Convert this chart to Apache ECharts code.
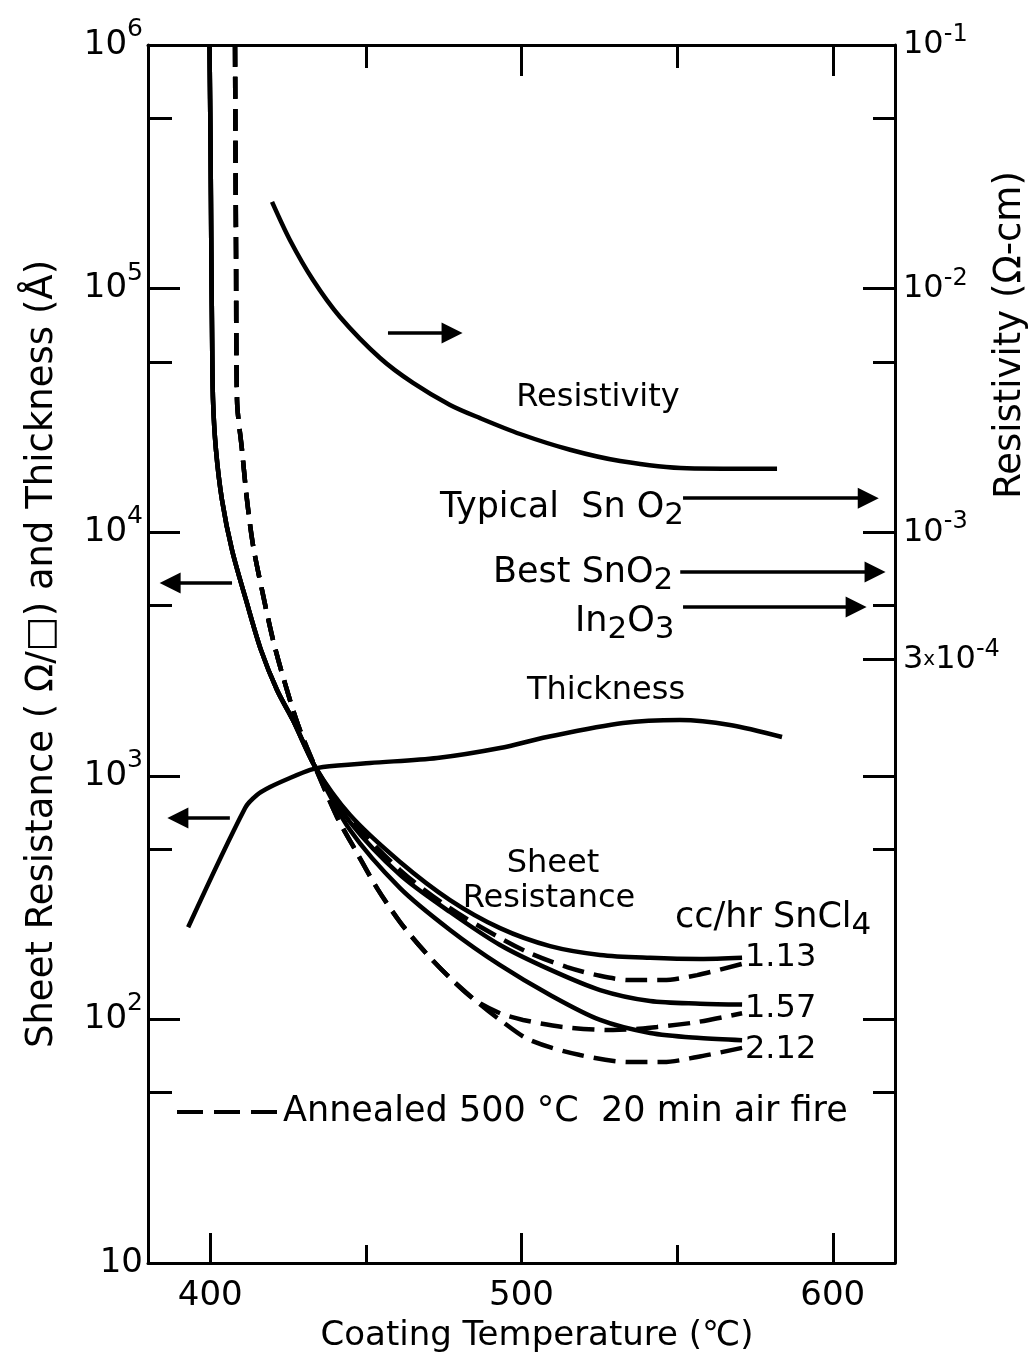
<!DOCTYPE html>
<html>
<head>
<meta charset="utf-8">
<script src="https://cdn.jsdelivr.net/npm/echarts@6/dist/echarts.min.js"></script>
<style>
  html, body { margin: 0; padding: 0; background: #fff; }
  #chart { width: 1034px; height: 1357px; }
</style>
</head>
<body>
<div id="chart"></div>
<script>
// ---- Axis ticks ----
const xMajorTicks = [400, 500, 600];
const xMinorTicks = [450, 550];
const leftMajorTicks = [10, 1e2, 1e3, 1e4, 1e5, 1e6];
const leftMinorTicks = [50, 500, 5e3, 5e4, 5e5];
const rightMajorTicks = [1e-6, 1e-5, 1e-4, 3e-4, 1e-3, 1e-2, 1e-1];
const rightLabelTicks = [3e-4, 1e-3, 1e-2, 1e-1];
const rightMinorTicks = [5e-6, 5e-5, 5e-4, 5e-3, 5e-2];

// ---- Resistivity (ohm-cm, right axis) vs coating temperature (C) ----
const resistivityT   = [419.85, 425.63, 433.02, 441.70, 454.55, 465.15, 477.04, 486.68, 499.54, 515.6, 531.68, 553.2, 582.1];
const resistivityVal = [2.27e-2, 1.58e-2, 1.085e-2, 7.65e-3, 5.19e-3, 4.10e-3, 3.33e-3, 2.94e-3, 2.53e-3, 2.18e-3, 1.96e-3, 1.83e-3, 1.82e-3];

// ---- Film thickness (angstrom, left axis) ----
const thicknessT   = [392.9, 411.2, 415.0, 419.2, 425.6, 432.1, 436.2, 451.3, 472.9, 493.1, 508.2, 532.6, 550.9, 567.0, 583.7];
const thicknessVal = [239, 738, 834, 899, 979, 1057, 1087, 1129, 1183, 1300, 1443, 1648, 1694, 1617, 1443];

// ---- Sheet resistance (ohm/sq), as deposited, per SnCl4 feed rate ----
const sheet113T   = [399.76, 400.08, 400.34, 400.57, 400.89, 401.85, 403.78, 406.99, 411.49, 416.31, 421.45, 426.59, 433.66, 444.91, 460.98, 477.04, 493.11, 509.18, 525.24, 541.31, 557.38, 570.87];
const sheet113Val = [1e6, 4.07e5, 1.44e5, 6.76e4, 3.49e4, 2.17e4, 1.355e4, 8450, 5270, 3280, 2250, 1690, 1090, 690, 443, 309, 237, 200, 184, 179, 177, 179];
const sheet157T   = [399.76, 400.08, 400.34, 400.57, 400.89, 401.85, 403.78, 406.99, 411.49, 416.31, 421.45, 426.59, 433.66, 444.91, 460.98, 477.04, 493.11, 509.18, 525.24, 541.31, 557.38, 570.87];
const sheet157Val = [1e6, 4.07e5, 1.44e5, 6.76e4, 3.49e4, 2.17e4, 1.355e4, 8450, 5270, 3280, 2250, 1690, 1090, 646, 392, 276, 202, 160, 132, 119, 116, 115];
const sheet212T   = [399.76, 400.08, 400.34, 400.57, 400.89, 401.85, 403.78, 406.99, 411.49, 416.31, 421.45, 426.59, 433.66, 444.91, 460.98, 477.04, 493.11, 509.18, 525.24, 541.31, 557.38, 570.87];
const sheet212Val = [1e6, 4.07e5, 1.44e5, 6.76e4, 3.49e4, 2.17e4, 1.355e4, 8450, 5270, 3280, 2250, 1690, 1090, 599, 346, 233, 167, 126, 99.5, 88.0, 83.9, 82.2];

// ---- Sheet resistance after 500 C, 20 min air anneal ----
const annealed113T   = [407.96, 408.28, 408.60, 410.21, 411.81, 413.74, 416.63, 420.17, 423.70, 428.20, 433.66, 444.91, 460.98, 477.04, 493.11, 502.75, 514.63, 525.24, 534.88, 545.49, 556.43, 570.87];
const annealed113Val = [1e6, 1.44e5, 3.49e4, 2.17e4, 1.355e4, 8850, 5790, 3610, 2470, 1620, 1090, 672, 410, 286, 216, 187, 164, 151, 145, 145, 152, 169];
const annealed157T   = [407.96, 408.28, 408.60, 410.21, 411.81, 413.74, 416.63, 420.17, 423.70, 428.20, 433.66, 440.73, 447.16, 453.58, 460.98, 469.01, 477.04, 485.08, 493.11, 500.50, 513.35, 529.43, 543.56, 556.43, 570.87];
const annealed157Val = [1e6, 1.44e5, 3.49e4, 2.17e4, 1.355e4, 8850, 5790, 3610, 2470, 1620, 1090, 678, 482, 346, 251, 189, 148, 120, 106, 99.5, 93.1, 90.4, 93.1, 97.5, 106];
const annealed212T   = [407.96, 408.28, 408.60, 410.21, 411.81, 413.74, 416.63, 420.17, 423.70, 428.20, 433.66, 440.73, 447.16, 453.58, 460.98, 469.01, 477.04, 485.08, 493.11, 502.75, 518.82, 534.88, 545.49, 556.43, 570.87];
const annealed212Val = [1e6, 1.44e5, 3.49e4, 2.17e4, 1.355e4, 8850, 5790, 3610, 2470, 1620, 1090, 678, 482, 346, 251, 189, 148, 120, 99.5, 82.2, 71.4, 66.8, 66.8, 70.1, 76.4];

// ---- Pointer arrows: start T, end T, value, axis side ----
const arrowStartT = [457.1, 407.0, 406.3, 551.9, 551.0, 551.9];
const arrowEndT   = [477.7, 387.1, 389.6, 611.4, 613.6, 607.5];
const arrowValue  = [6.58e-3, 6180, 671, 1.38e-3, 6.87e-4, 4.93e-4];
const arrowAxis   = ['right', 'left', 'left', 'right', 'right', 'right'];

const FONT = 'DejaVu Sans';
const lg = Math.log10;

// "10", "10^n" or "m x 10^n" from a log10 tick value
function powerLabel(v) {
  const e = Math.floor(v + 1e-6);
  const m = Math.round(Math.pow(10, v - e));
  const pow = (e === 1) ? '{b|10}' : '{b|10}{s|' + e + '}';
  return m === 1 ? pow : '{b|' + m + '}{x|x}' + pow;
}

function xAxisDef(position, ticks, len, showLine, showLabel) {
  return {
    type: 'value', min: 380, max: 620, position: position,
    axisLine: { show: showLine, onZero: false, lineStyle: { color: '#000', width: 3 } },
    axisTick: { show: true, inside: true, length: len, customValues: ticks, lineStyle: { color: '#000', width: 3 } },
    axisLabel: { show: showLabel, customValues: ticks, margin: 16, color: '#000', fontFamily: FONT, fontSize: 34 },
    splitLine: { show: false }
  };
}

function yAxisDef(position, min, max, ticks, len, showLine, labelTicks, rich, margin) {
  return {
    type: 'value', min: min, max: max, position: position,
    axisLine: { show: showLine, onZero: false, lineStyle: { color: '#000', width: 3 } },
    axisTick: { show: true, inside: true, length: len, customValues: ticks.map(lg), lineStyle: { color: '#000', width: 3 } },
    axisLabel: labelTicks ? {
      show: true, customValues: labelTicks.map(lg), margin: margin, color: '#000',
      formatter: powerLabel, rich: rich
    } : { show: false },
    splitLine: { show: false }
  };
}

const leftRich = {
  b: { fontFamily: FONT, fontSize: 34, lineHeight: 56, color: '#000' },
  s: { fontFamily: FONT, fontSize: 25, lineHeight: 22, verticalAlign: 'top', color: '#000' }
};
const rightRich = {
  b: { fontFamily: FONT, fontSize: 32, lineHeight: 44, color: '#000' },
  s: { fontFamily: FONT, fontSize: 24, lineHeight: 22, verticalAlign: 'top', color: '#000' },
  x: { fontFamily: FONT, fontSize: 20, lineHeight: 44, color: '#000' }
};

function curve(T, V, yIdx, dashed) {
  return {
    type: 'line', xAxisIndex: 0, yAxisIndex: yIdx,
    data: T.map((t, i) => [t, lg(V[i])]),
    showSymbol: false, symbol: 'none', smooth: 0.3, silent: true,
    lineStyle: { color: '#000', width: 4.5, type: dashed ? [22, 10] : 'solid' }
  };
}

const arrowSeries = ['left', 'right'].map(side => ({
  type: 'lines', coordinateSystem: 'cartesian2d', xAxisIndex: 0, yAxisIndex: side === 'left' ? 0 : 2,
  symbol: ['none', 'triangle'], symbolSize: 21, silent: true,
  lineStyle: { color: '#000', width: 3.5, opacity: 1, curveness: 0 },
  data: arrowStartT.map((t, i) => ({ coords: [[t, lg(arrowValue[i])], [arrowEndT[i], lg(arrowValue[i])]] }))
    .filter((d, i) => arrowAxis[i] === side)
}));

const textRich = {
  m: { fontFamily: FONT, fontSize: 35, lineHeight: 46, fill: '#000' },
  sub: { fontFamily: FONT, fontSize: 31, lineHeight: 18, verticalAlign: 'bottom', fill: '#000' }
};
function label(text, x, y, align, size, extra) {
  return Object.assign({
    type: 'text', x: x, y: y, silent: true,
    style: { text: text, fontFamily: FONT, fontSize: size || 32, fill: '#000', align: align || 'center', verticalAlign: 'middle', rich: textRich }
  }, extra || {});
}

const chart = echarts.init(document.getElementById('chart'));
chart.setOption({
  animation: false,
  backgroundColor: '#fff',
  grid: { left: 148, right: 139, top: 45, bottom: 94 },
  xAxis: [
    xAxisDef('bottom', xMajorTicks, 30, true, true),
    xAxisDef('bottom', xMinorTicks, 18, false, false),
    xAxisDef('top', xMajorTicks, 31, true, false),
    xAxisDef('top', xMinorTicks, 23, false, false)
  ],
  yAxis: [
    yAxisDef('left', 1, 6, leftMajorTicks, 32, true, leftMajorTicks, leftRich, 5),
    yAxisDef('left', 1, 6, leftMinorTicks, 24, false, null),
    yAxisDef('right', -6, -1, rightMajorTicks, 32, true, rightLabelTicks, rightRich, 8),
    yAxisDef('right', -6, -1, rightMinorTicks, 22, false, null)
  ],
  series: [
    curve(resistivityT, resistivityVal, 2, false),
    curve(thicknessT, thicknessVal, 0, false),
    curve(sheet113T, sheet113Val, 0, false),
    curve(sheet157T, sheet157Val, 0, false),
    curve(sheet212T, sheet212Val, 0, false),
    curve(annealed113T, annealed113Val, 0, true),
    curve(annealed157T, annealed157Val, 0, true),
    curve(annealed212T, annealed212Val, 0, true)
  ].concat(arrowSeries),
  graphic: [
    label('Sheet Resistance ( Ω/□) and Thickness (Å)', 42, 654, 'center', 37, { rotation: Math.PI / 2 }),
    label('Resistivity (Ω-cm)', 1010, 335, 'center', 37, { rotation: Math.PI / 2 }),
    label('Coating Temperature (℃)', 537, 1336, 'center', 34),
    label('Resistivity', 598, 398),
    label('{m|Typical  Sn O}{sub|2}', 440, 508, 'left'),
    label('{m|Best SnO}{sub|2}', 493, 573, 'left'),
    label('{m|In}{sub|2}{m|O}{sub|3}', 575, 622, 'left'),
    label('Thickness', 606, 691),
    label('Sheet', 553, 864),
    label('Resistance', 549, 899),
    label('{m|cc/hr SnCl}{sub|4}', 675, 918, 'left'),
    label('1.13', 745, 958, 'left'),
    label('1.57', 745, 1009, 'left'),
    label('2.12', 745, 1050, 'left'),
    { type: 'line', silent: true, shape: { x1: 177, y1: 1112, x2: 278, y2: 1112 },
      style: { stroke: '#000', lineWidth: 4, lineDash: [26, 11] } },
    label('Annealed 500 °C  20 min air fire', 283, 1112, 'left', 35)
  ]
});
</script>
</body>
</html>
